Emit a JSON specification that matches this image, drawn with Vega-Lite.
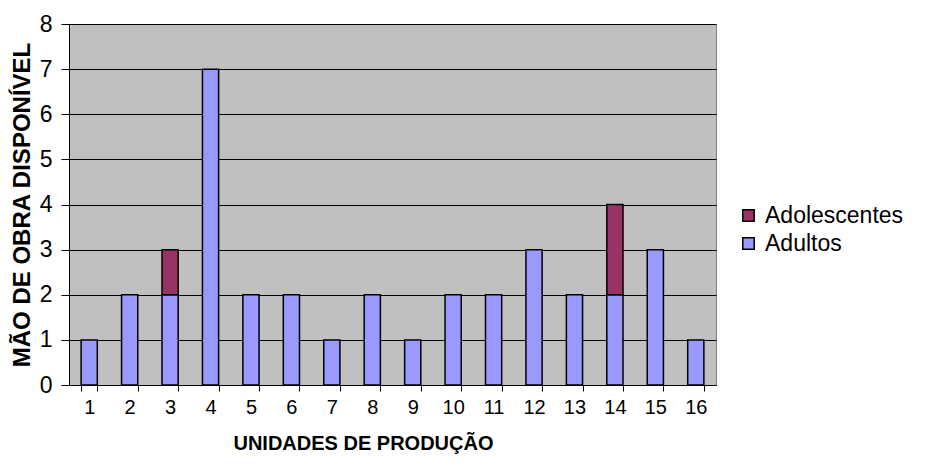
{
  "$schema": "https://vega.github.io/schema/vega-lite/v6.json",
  "autosize": "none",
  "padding": {"left": 69, "top": 24, "right": 226, "bottom": 83},
  "width": 647,
  "height": 361,
  "background": "white",
  "config": {
    "font": "Liberation Sans",
    "view": {"fill": "#C0C0C0", "stroke": "#808080", "strokeWidth": 1}
  },
  "data": {
    "values": [
      {"unidade": "1", "serie": "Adultos", "valor": 1},
      {"unidade": "2", "serie": "Adultos", "valor": 2},
      {"unidade": "3", "serie": "Adultos", "valor": 2},
      {"unidade": "3", "serie": "Adolescentes", "valor": 1},
      {"unidade": "4", "serie": "Adultos", "valor": 7},
      {"unidade": "5", "serie": "Adultos", "valor": 2},
      {"unidade": "6", "serie": "Adultos", "valor": 2},
      {"unidade": "7", "serie": "Adultos", "valor": 1},
      {"unidade": "8", "serie": "Adultos", "valor": 2},
      {"unidade": "9", "serie": "Adultos", "valor": 1},
      {"unidade": "10", "serie": "Adultos", "valor": 2},
      {"unidade": "11", "serie": "Adultos", "valor": 2},
      {"unidade": "12", "serie": "Adultos", "valor": 3},
      {"unidade": "13", "serie": "Adultos", "valor": 2},
      {"unidade": "14", "serie": "Adultos", "valor": 2},
      {"unidade": "14", "serie": "Adolescentes", "valor": 2},
      {"unidade": "15", "serie": "Adultos", "valor": 3},
      {"unidade": "16", "serie": "Adultos", "valor": 1}
    ]
  },
  "mark": {"type": "bar", "stroke": "black", "strokeWidth": 1.5},
  "encoding": {
    "x": {
      "field": "unidade",
      "type": "ordinal",
      "sort": null,
      "scale": {"paddingInner": 0.6, "paddingOuter": 0.3},
      "axis": {
        "title": "UNIDADES DE PRODUÇÃO",
        "titleFontSize": 20,
        "titleFontWeight": "bold",
        "titleColor": "black",
        "titlePadding": 16,
        "titleX": 294,
        "labelAngle": 0,
        "labelFontSize": 20,
        "labelColor": "black",
        "labelPadding": 6,
        "tickBand": "extent",
        "tickColor": "black",
        "tickSize": 6,
        "domainColor": "black",
        "grid": false
      }
    },
    "y": {
      "field": "valor",
      "type": "quantitative",
      "aggregate": "sum",
      "stack": "zero",
      "scale": {"domain": [0, 8], "nice": false},
      "axis": {
        "title": "MÃO DE OBRA DISPONÍVEL",
        "titleFontSize": 24,
        "titleFontWeight": "bold",
        "titleColor": "black",
        "titlePadding": 5,
        "titleLimit": 375,
        "values": [0, 1, 2, 3, 4, 5, 6, 7, 8],
        "labelFontSize": 23,
        "labelColor": "black",
        "labelPadding": 9,
        "tickColor": "black",
        "tickSize": 8,
        "domainColor": "black",
        "grid": true,
        "gridColor": "black",
        "gridWidth": 1
      }
    },
    "color": {
      "field": "serie",
      "type": "nominal",
      "scale": {"domain": ["Adolescentes", "Adultos"], "range": ["#993366", "#9999FF"]},
      "legend": {
        "title": null,
        "orient": "none",
        "legendX": 668,
        "legendY": 180,
        "symbolType": "square",
        "symbolSize": 130,
        "symbolStrokeColor": "black",
        "symbolStrokeWidth": 1.5,
        "symbolOpacity": 1,
        "labelFontSize": 23,
        "labelColor": "black",
        "labelOffset": 5,
        "rowPadding": 4
      }
    },
    "order": {"field": "serie", "sort": "descending"}
  }
}
